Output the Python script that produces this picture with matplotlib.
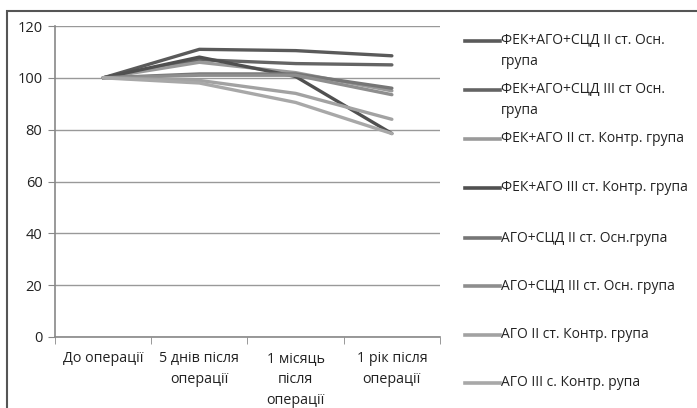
import matplotlib
matplotlib.use("Agg")
import matplotlib.pyplot as plt
from matplotlib.patches import Rectangle

plt.rcParams['font.family'] = ['Open Sans', 'DejaVu Sans']

categories = ["До операції", "5 днів після\nоперації", "1 місяць\nпісля\nоперації", "1 рік після\nоперації"]
series_names = [
    "ФЕК+АГО+СЦД II ст. Осн.\nгрупа",
    "ФЕК+АГО+СЦД III ст Осн.\nгрупа",
    "ФЕК+АГО II ст. Контр. група",
    "ФЕК+АГО III ст. Контр. група",
    "АГО+СЦД II ст. Осн.група",
    "АГО+СЦД III ст. Осн. група",
    "АГО II ст. Контр. група",
    "АГО III с. Контр. рупа",
]
s1 = [100, 111, 110.5, 108.5]
s2 = [100, 107, 105.5, 105]
s3 = [100, 106, 102, 95]
s4 = [100, 108, 100.5, 78.5]
s5 = [100, 101.5, 101.5, 96]
s6 = [100, 101, 101, 93.5]
s7 = [100, 99, 94, 84]
s8 = [100, 98, 90.5, 78.5]
series = [s1, s2, s3, s4, s5, s6, s7, s8]
colors = ["#5a5a5a", "#646464", "#9a9a9a", "#505050", "#767676", "#8e8e8e", "#a2a2a2", "#a8a8a8"]
yticks = [0, 20, 40, 60, 80, 100, 120]

fig = plt.figure(figsize=(6.97, 4.08), dpi=100)
ax = fig.add_axes([55/697, 1-337/408, (440-55)/697, (337-26)/408])

x = list(range(len(categories)))
lines = []
for vals, name, c in zip(series, series_names, colors):
    ln, = ax.plot(x, vals, color=c, lw=2.4, label=name, solid_capstyle='round')
    lines.append(ln)

ax.set_xlim(-0.5, 3.5)
ax.set_ylim(0, 120)
ax.set_yticks(yticks)
ax.set_xticks(x)
ax.set_xticklabels(categories, fontsize=10.3, color="#222222", linespacing=1.55)
ax.set_xticks([-0.5, 0.5, 1.5, 2.5, 3.5], minor=True)
ax.tick_params(axis='x', which='major', length=0, pad=10)
ax.tick_params(axis='x', which='minor', length=5, color="#888888", direction='out')
ax.tick_params(axis='y', length=5, color="#888888", labelsize=10.5, labelcolor="#222222", pad=4)
ax.grid(axis='y', color="#999999", lw=1)
ax.set_axisbelow(True)
for sp in ['top', 'right']:
    ax.spines[sp].set_visible(False)
for sp in ['left', 'bottom']:
    ax.spines[sp].set_color("#888888")
    ax.spines[sp].set_linewidth(1.2)

# legend entries placed manually in figure coordinates
ys = [41, 90, 139, 188, 238, 286, 335, 383]
for ln, name, yy in zip(lines, series_names, ys):
    yf = 1 - yy/408
    fig.add_artist(plt.Line2D([465/697, 500/697], [yf, yf], color=ln.get_color(), lw=2.6))
    if '\n' in name:
        fig.text(501/697, yf + 8/408, name, fontsize=10, color="#222222", va='top', ha='left',
                 linespacing=1.55)
    else:
        fig.text(501/697, yf, name, fontsize=10, color="#222222", va='center', ha='left')

fig.add_artist(Rectangle((7/697, -0.05), 1.0, 1 - 11/408 + 0.05, transform=fig.transFigure,
                         fill=False, edgecolor="#555555", lw=1.5))

fig.savefig("out.png", dpi=100)
